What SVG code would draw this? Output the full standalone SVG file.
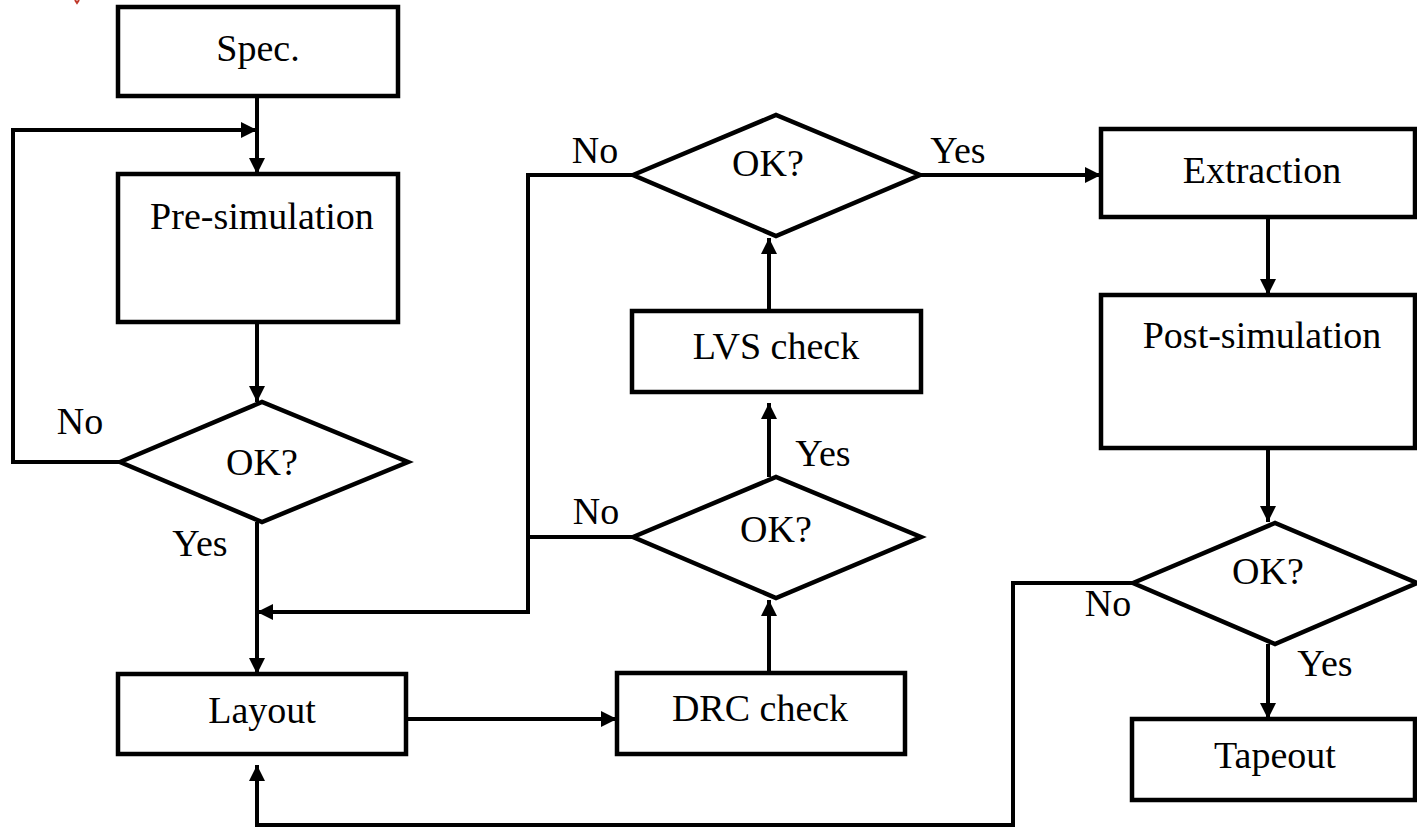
<svg xmlns="http://www.w3.org/2000/svg" width="1417" height="827" viewBox="0 0 1417 827">
<defs>
<marker id="arr" markerUnits="userSpaceOnUse" markerWidth="18" markerHeight="16" refX="16" refY="8" orient="auto">
<path d="M0,0 L16,8 L0,16 Z" fill="#000"/>
</marker>
<style>
.box{fill:#fff;stroke:#000;stroke-width:4.5}
.dia{fill:#fff;stroke:#000;stroke-width:4.5;stroke-linejoin:miter}
.ln{fill:none;stroke:#000;stroke-width:4}
.ar{fill:none;stroke:#000;stroke-width:4;marker-end:url(#arr)}
text{font-family:"Liberation Serif","Times New Roman",serif;font-size:38px;fill:#000;text-anchor:middle}
</style>
</defs>
<rect width="1417" height="827" fill="#fff"/>
<path d="M75 0 L77 3 L79 0" fill="none" stroke="#c0392b" stroke-width="2"/>
<g id="connectors">
<line class="ar" x1="257" y1="98" x2="257" y2="174"/>
<polyline class="ar" points="120,462 13,462 13,130 257,130"/>
<line class="ar" x1="257" y1="322" x2="257" y2="402"/>
<line class="ar" x1="257" y1="522" x2="257" y2="674"/>
<polyline class="ar" points="633,537 528,537 528,612 257,612"/>
<polyline class="ln" points="633,175 528,175 528,537"/>
<line class="ar" x1="406" y1="719" x2="617" y2="719"/>
<line class="ar" x1="769" y1="673" x2="769" y2="600"/>
<line class="ar" x1="769" y1="477" x2="769" y2="403"/>
<line class="ar" x1="769" y1="311" x2="769" y2="238"/>
<line class="ar" x1="920" y1="175" x2="1101" y2="175"/>
<line class="ar" x1="1268" y1="217" x2="1268" y2="295"/>
<line class="ar" x1="1268" y1="448" x2="1268" y2="522"/>
<line class="ar" x1="1268" y1="644" x2="1268" y2="719"/>
<polyline class="ar" points="1133,583 1013,583 1013,825 257,825 257,765"/>
</g>
<g id="spec"><rect class="box" x="118" y="7" width="280" height="89"/><text x="258" y="61">Spec.</text></g>
<g id="presim"><rect class="box" x="118" y="174" width="280" height="148"/><text x="262" y="229">Pre-simulation</text></g>
<g id="ok1"><polygon class="dia" points="120,462 262,402 408,462 262,522"/><text x="262" y="475">OK?</text><text x="80" y="434">No</text><text x="200" y="556">Yes</text></g>
<g id="layout"><rect class="box" x="118" y="674" width="288" height="80"/><text x="262" y="723">Layout</text></g>
<g id="drc"><rect class="box" x="617" y="673" width="288" height="81"/><text x="760" y="721">DRC check</text></g>
<g id="ok2"><polygon class="dia" points="633,537 776,477 921,537 776,598"/><text x="776" y="542">OK?</text><text x="596" y="524">No</text><text x="823" y="466">Yes</text></g>
<g id="lvs"><rect class="box" x="632" y="311" width="289" height="81"/><text x="776" y="359">LVS check</text></g>
<g id="ok3"><polygon class="dia" points="633,175 776,115 920,175 776,236"/><text x="768" y="176">OK?</text><text x="595" y="163">No</text><text x="958" y="163">Yes</text></g>
<g id="extraction"><rect class="box" x="1101" y="129" width="314" height="88"/><text x="1262" y="183">Extraction</text></g>
<g id="postsim"><rect class="box" x="1101" y="295" width="314" height="153"/><text x="1262" y="348">Post-simulation</text></g>
<g id="ok4"><polygon class="dia" points="1133,583 1275,523 1417,583 1275,644"/><text x="1268" y="584">OK?</text><text x="1108" y="616">No</text><text x="1325" y="676">Yes</text></g>
<g id="tapeout"><rect class="box" x="1132" y="719" width="283" height="81"/><text x="1275" y="768">Tapeout</text></g>
</svg>
